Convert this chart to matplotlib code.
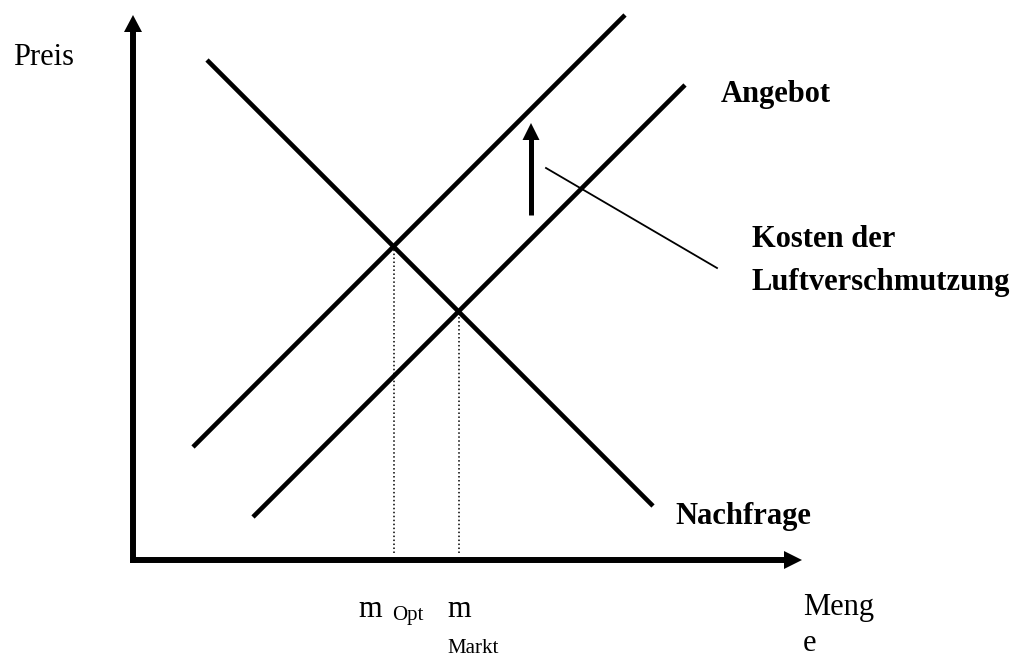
import numpy as np
import matplotlib
matplotlib.use("Agg")
import matplotlib.pyplot as plt

# ---- data (quantity / price in chart units) ----
demand_q = [74, 520]
demand_p = [500, 54]
supply_q = [120, 552]
supply_p = [43, 475]
supply_shift_q = [60, 492]
supply_shift_p = [113, 545]
shift_arrow_q = 398
shift_arrow_p = [345, 437]
leader_q = [413, 584]
leader_p = [392, 292]

labels = {
    "price": "Preis",
    "qty": ["Meng", "e"],
    "supply": "Angebot",
    "demand": "Nachfrage",
    "cost": ["Kosten der", "Luftverschmutzung"],
    "m": "m",
    "opt": "Opt",
    "markt": "Markt",
}


def intersect(q1, p1, q2, p2):
    a1 = (p1[1] - p1[0]) / (q1[1] - q1[0]); b1 = p1[0] - a1 * q1[0]
    a2 = (p2[1] - p2[0]) / (q2[1] - q2[0]); b2 = p2[0] - a2 * q2[0]
    q = (b2 - b1) / (a1 - a2)
    return q, a1 * q + b1


q_opt, p_opt = intersect(demand_q, demand_p, supply_shift_q, supply_shift_p)
q_mkt, p_mkt = intersect(demand_q, demand_p, supply_q, supply_p)

fig = plt.figure(figsize=(10.25, 6.59), dpi=100)
ax = fig.add_axes([0, 0, 1, 1])
ax.set_xlim(-133, 892)
ax.set_ylim(-99, 560)
ax.axis("off")

black = "black"
serif = ["Liberation Serif", "DejaVu Serif"]

# axes with arrows
ax.plot([0, 0], [-3, 528], color=black, lw=4.3, solid_capstyle="butt")
ax.plot([-3, 652], [0, 0], color=black, lw=4.3, solid_capstyle="butt")
ax.fill([-9, 9, 0], [528, 528, 545], color=black, lw=0)
ax.fill([651, 651, 669], [-9, 9, 0], color=black, lw=0)

# curves
for q, p in [(demand_q, demand_p), (supply_q, supply_p), (supply_shift_q, supply_shift_p)]:
    ax.plot(q, p, color=black, lw=3.3, solid_capstyle="butt")

# dotted guide lines
for qq, pp in [(q_opt, p_opt), (q_mkt, p_mkt)]:
    ax.plot([qq, qq], [7, pp], color=black, lw=1.1, linestyle=(0, (1, 1.6)))

# shift arrow
ax.plot([shift_arrow_q, shift_arrow_q], [shift_arrow_p[0], shift_arrow_p[1] - 15],
        color=black, lw=3.6, solid_capstyle="butt")
ax.fill([shift_arrow_q - 8.5, shift_arrow_q + 8.5, shift_arrow_q],
        [shift_arrow_p[1] - 17, shift_arrow_p[1] - 17, shift_arrow_p[1]], color=black, lw=0)

# leader line
ax.plot(leader_q, leader_p, color=black, lw=1.3)

# texts
fs = 22
ax.text(-120, 495, labels["price"], family=serif, fontsize=fs, va="baseline")
ax.text(670, -55, labels["qty"][0], family=serif, fontsize=fs, va="baseline")
ax.text(670, -91, labels["qty"][1], family=serif, fontsize=fs, va="baseline")
ax.text(588, 458, labels["supply"], family=serif, fontsize=fs, weight="bold", va="baseline")
ax.text(542, 36, labels["demand"], family=serif, fontsize=fs, weight="bold", va="baseline")
ax.text(619, 313, labels["cost"][0], family=serif, fontsize=fs, weight="bold", va="baseline")
ax.text(619, 270, labels["cost"][1], family=serif, fontsize=fs, weight="bold", va="baseline")
ax.text(225, -57, labels["m"], family=serif, fontsize=fs, va="baseline")
ax.text(259, -60, labels["opt"], family=serif, fontsize=15, va="baseline")
ax.text(314, -57, labels["m"], family=serif, fontsize=fs, va="baseline")
ax.text(314, -93, labels["markt"], family=serif, fontsize=15, va="baseline")

fig.savefig("out.png", dpi=100, facecolor="white")
